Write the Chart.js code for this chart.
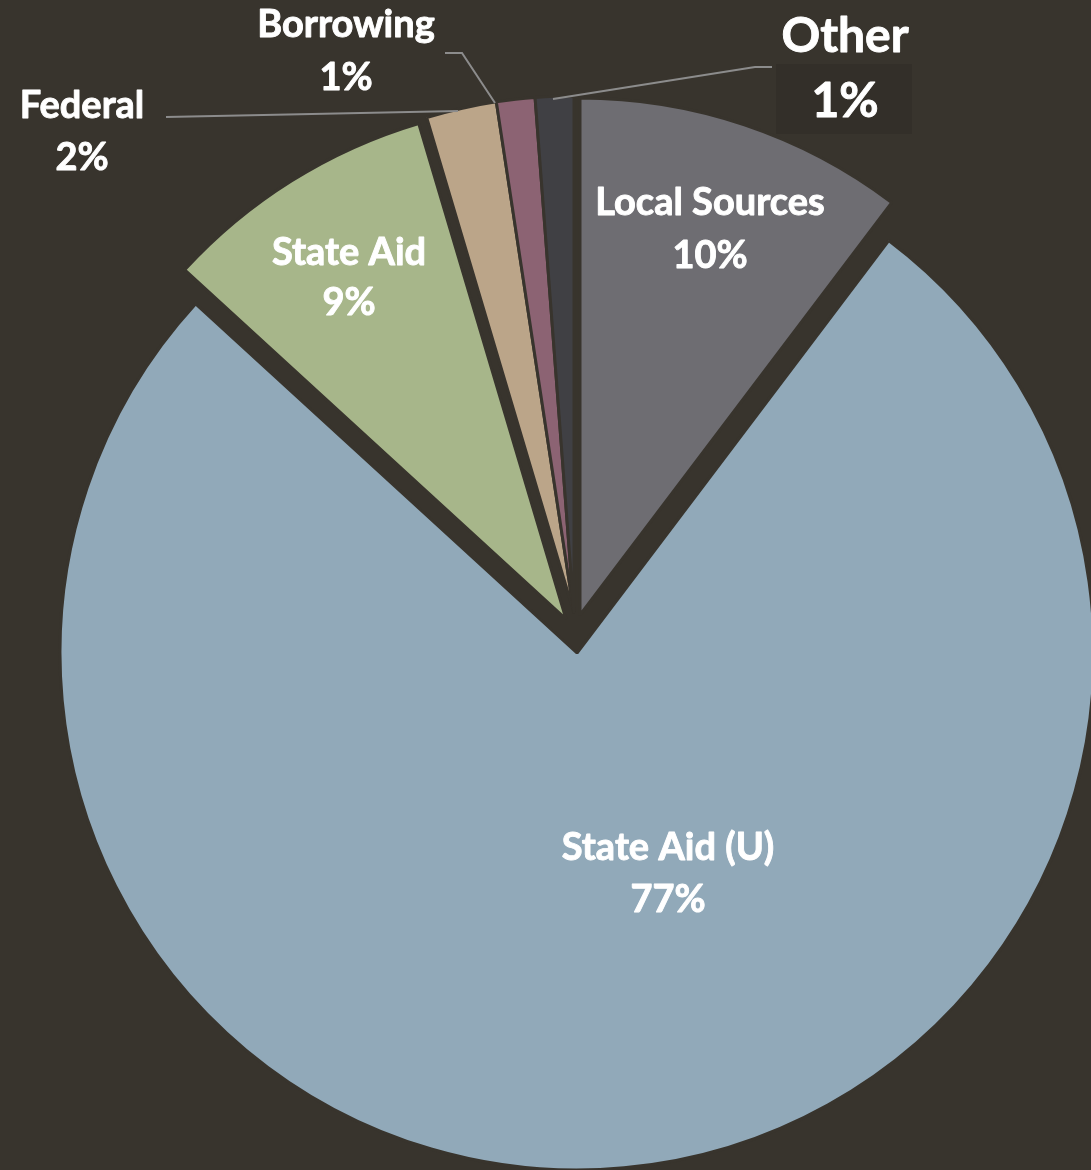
<!DOCTYPE html>
<html><head><meta charset="utf-8">
<script src="https://cdn.jsdelivr.net/npm/chart.js@4.4.1/dist/chart.umd.min.js"></script>
<style>
html,body{margin:0;padding:0;background:#38342d;}
#wrap{position:relative;width:1091px;height:1170px;overflow:hidden;background:#38342d;}
canvas{display:block;}
</style></head><body>
<div id="wrap"><canvas id="c" width="1091" height="1170"></canvas></div>
<script>
// ---- data ----
const categories = ['Local Sources', 'State Aid (U)', 'State Aid', 'Federal', 'Borrowing', 'Other'];
const shares = [10.3, 76.5, 8.6, 2.2, 1.2, 1.2];
const percentLabels = ['10%', '77%', '9%', '2%', '1%', '1%'];

// ---- styling / layout (not data) ----
const BG = '#38342d';
const colors = ['#6e6d72', '#91a9b9', '#a7b68a', '#bba589', '#8c6373', '#404044'];
const sliceShift = [[6, 2], [3, 40], [-8, 6], [0, 0], [0, 0], [0, 0]];
const labelLayout = [
  {x: 710, y: [215, 268], size: 38},
  {x: 668, y: [860, 912], size: 38},
  {x: 349, y: [265, 315], size: 38},
  {x: 82,  y: [118, 170], size: 38},
  {x: 346, y: [37, 90],   size: 38},
  {x: 845, y: [52, 117],  size: 48}
];
const leaders = [null, null, null,
  [[166, 117], [458, 111]],
  [[445, 53], [462, 53], [495, 103]],
  [[772, 67], [755, 67], [553, 99]]
];

const shiftPlugin = {
  id: 'shift',
  beforeDatasetDraw(chart, args) {
    const ctx = chart.ctx;
    args.meta.data.forEach((arc, i) => {
      ctx.save();
      ctx.translate(sliceShift[i][0], sliceShift[i][1]);
      arc.draw(ctx);
      ctx.restore();
    });
    return false;
  }
};

const labelPlugin = {
  id: 'labels',
  afterDraw(chart) {
    const ctx = chart.ctx;
    ctx.save();
    // faint text box behind "Other"
    ctx.fillStyle = '#332f29';
    ctx.fillRect(776, 64, 136, 70);
    // leader lines
    ctx.strokeStyle = '#8c8c8c';
    ctx.lineWidth = 2;
    leaders.forEach(l => {
      if (!l) return;
      ctx.beginPath();
      ctx.moveTo(l[0][0], l[0][1]);
      for (let k = 1; k < l.length; k++) ctx.lineTo(l[k][0], l[k][1]);
      ctx.stroke();
    });
    ctx.fillStyle = '#ffffff';
    ctx.strokeStyle = '#ffffff';
    ctx.lineWidth = 0.9;
    ctx.lineJoin = 'round';
    ctx.textAlign = 'center';
    ctx.textBaseline = 'alphabetic';
    categories.forEach((name, i) => {
      const L = labelLayout[i];
      ctx.font = 'bold ' + L.size + 'px Lato, "Open Sans", sans-serif';
      ctx.fillText(name, L.x, L.y[0]);
      ctx.strokeText(name, L.x, L.y[0]);
      ctx.fillText(percentLabels[i], L.x, L.y[1]);
      ctx.strokeText(percentLabels[i], L.x, L.y[1]);
    });
    ctx.restore();
  }
};

function draw() {
  new Chart(document.getElementById('c'), {
    type: 'pie',
    data: {
      labels: categories,
      datasets: [{
        data: shares,
        backgroundColor: colors,
        borderColor: BG,
        borderWidth: 3,
        radius: 517
      }]
    },
    options: {
      responsive: false,
      animation: false,
      events: [],
      layout: {padding: {left: 57, top: 56, right: 0, bottom: 0}},
      plugins: {legend: {display: false}, tooltip: {enabled: false}}
    },
    plugins: [shiftPlugin, labelPlugin]
  });
}
if (document.fonts && document.fonts.load) {
  document.fonts.load('bold 38px Lato').then(draw, draw);
} else { draw(); }
</script>
</body></html>
